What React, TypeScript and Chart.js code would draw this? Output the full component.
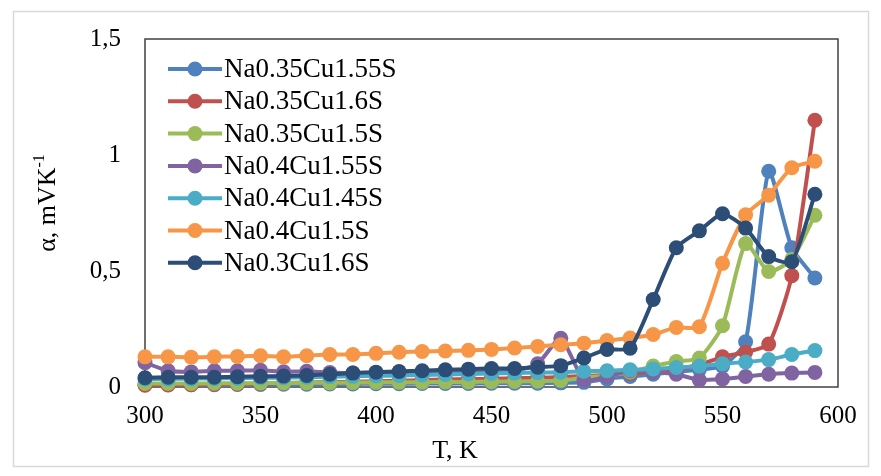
import { useEffect, useRef } from "react";
import { Chart, registerables } from "chart.js";

Chart.register(...registerables);

const temperatures = [300, 310, 320, 330, 340, 350, 360, 370, 380, 390, 400, 410, 420, 430, 440, 450, 460, 470, 480, 490, 500, 510, 520, 530, 540, 550, 560, 570, 580, 590];

const na035cu155s = [0.01, 0.01, 0.01, 0.01, 0.011, 0.011, 0.012, 0.012, 0.013, 0.013, 0.014, 0.014, 0.015, 0.015, 0.015, 0.016, 0.016, 0.016, 0.018, 0.02, 0.035, 0.045, 0.055, 0.065, 0.075, 0.09, 0.195, 0.93, 0.6, 0.47];
const na035cu16s = [0.008, 0.009, 0.01, 0.012, 0.013, 0.015, 0.017, 0.019, 0.021, 0.023, 0.025, 0.027, 0.03, 0.032, 0.034, 0.036, 0.038, 0.04, 0.043, 0.047, 0.052, 0.058, 0.066, 0.078, 0.095, 0.13, 0.15, 0.185, 0.48, 1.15];
const na035cu15s = [0.015, 0.015, 0.015, 0.016, 0.016, 0.017, 0.017, 0.018, 0.018, 0.019, 0.02, 0.02, 0.021, 0.022, 0.022, 0.023, 0.024, 0.025, 0.028, 0.04, 0.05, 0.065, 0.09, 0.11, 0.125, 0.264, 0.618, 0.498, 0.55, 0.74];
const na04cu155s = [0.105, 0.07, 0.065, 0.07, 0.07, 0.072, 0.066, 0.068, 0.062, 0.06, 0.06, 0.06, 0.062, 0.062, 0.063, 0.065, 0.07, 0.1, 0.21, 0.03, 0.045, 0.07, 0.065, 0.055, 0.03, 0.035, 0.045, 0.055, 0.06, 0.063];
const na04cu145s = [0.035, 0.035, 0.036, 0.037, 0.038, 0.04, 0.04, 0.042, 0.044, 0.046, 0.048, 0.05, 0.052, 0.054, 0.056, 0.058, 0.06, 0.062, 0.064, 0.068, 0.07, 0.074, 0.078, 0.084, 0.09, 0.1, 0.108, 0.118, 0.14, 0.157];
const na04cu15s = [0.13, 0.13, 0.128, 0.13, 0.132, 0.135, 0.13, 0.135, 0.14, 0.14, 0.145, 0.15, 0.153, 0.155, 0.158, 0.162, 0.168, 0.175, 0.182, 0.189, 0.2, 0.211, 0.226, 0.257, 0.26, 0.533, 0.742, 0.827, 0.945, 0.973];
const na03cu16s = [0.04, 0.042, 0.042, 0.042, 0.044, 0.046, 0.047, 0.05, 0.055, 0.06, 0.064, 0.067, 0.07, 0.074, 0.077, 0.08, 0.08, 0.085, 0.092, 0.125, 0.162, 0.167, 0.377, 0.6, 0.673, 0.747, 0.685, 0.562, 0.54, 0.831];

const seriesNames = ["Na0.35Cu1.55S", "Na0.35Cu1.6S", "Na0.35Cu1.5S", "Na0.4Cu1.55S", "Na0.4Cu1.45S", "Na0.4Cu1.5S", "Na0.3Cu1.6S"];
const seriesValues = [na035cu155s, na035cu16s, na035cu15s, na04cu155s, na04cu145s, na04cu15s, na03cu16s];
const seriesColors = ["#4F81BD", "#C0504D", "#9BBB59", "#8064A2", "#4BACC6", "#F79646", "#2C4D75"];

const xTitle = "T, K";
const yTitleMain = "α, mVK";
const yTitleSup = "-1";

const SERIF = "'Liberation Serif', 'Times New Roman', serif";

const decorPlugin = {
  id: "decor",
  beforeDraw(chart: any) {
    const ctx = chart.ctx;
    ctx.save();
    ctx.fillStyle = "#ffffff";
    ctx.fillRect(0, 0, chart.width, chart.height);
    ctx.strokeStyle = "#D9D9D9";
    ctx.lineWidth = 1.5;
    ctx.strokeRect(13.5, 11.5, 855, 455);
    ctx.restore();
  },
  beforeDatasetsDraw(chart: any) {
    const ctx = chart.ctx;
    const a = chart.chartArea;
    ctx.save();
    ctx.strokeStyle = "#404040";
    ctx.lineWidth = 1.5;
    ctx.strokeRect(a.left, a.top, a.right - a.left, a.bottom - a.top);
    ctx.restore();
  },
  afterDraw(chart: any) {
    const ctx = chart.ctx;
    ctx.save();
    ctx.fillStyle = "#000";
    ctx.font = `26px ${SERIF}`;
    ctx.textAlign = "center";
    ctx.textBaseline = "middle";
    ctx.fillText(xTitle, 455, 451);
    ctx.save();
    ctx.translate(48, 203);
    ctx.rotate(-Math.PI / 2);
    ctx.font = `26px ${SERIF}`;
    const w1 = ctx.measureText(yTitleMain).width;
    ctx.font = `16px ${SERIF}`;
    const w2 = ctx.measureText(yTitleSup).width;
    const start = -(w1 + w2) / 2;
    ctx.textAlign = "left";
    ctx.font = `26px ${SERIF}`;
    ctx.fillText(yTitleMain, start, 0);
    ctx.font = `16px ${SERIF}`;
    ctx.fillText(yTitleSup, start + w1, -8);
    ctx.restore();
    ctx.font = `27px ${SERIF}`;
    ctx.textAlign = "left";
    ctx.textBaseline = "middle";
    seriesNames.forEach((name, i) => {
      const y = 69 + 32.3 * i;
      ctx.strokeStyle = seriesColors[i];
      ctx.lineWidth = 4;
      ctx.beginPath();
      ctx.moveTo(168, y);
      ctx.lineTo(222, y);
      ctx.stroke();
      ctx.fillStyle = seriesColors[i];
      ctx.beginPath();
      ctx.arc(195, y, 7.5, 0, Math.PI * 2);
      ctx.fill();
      ctx.fillStyle = "#000";
      ctx.fillText(name, 224, y + 1);
    });
    ctx.restore();
  },
};

export default function App() {
  const canvasRef = useRef<HTMLCanvasElement | null>(null);

  useEffect(() => {
    if (!canvasRef.current) return;
    const datasets = seriesNames.map((name, i) => ({
      label: name,
      data: temperatures.map((t, j) => ({ x: t, y: seriesValues[i][j] })),
      borderColor: seriesColors[i],
      backgroundColor: seriesColors[i],
      borderWidth: 4,
      pointRadius: 7.5,
      pointBorderWidth: 0,
      pointHoverRadius: 7.5,
      tension: 0.2,
      clip: false as any,
      order: seriesNames.length - 1 - i,
    }));
    const chart = new Chart(canvasRef.current, {
      type: "line",
      data: { datasets },
      options: {
        responsive: false,
        animation: false,
        events: [],
        layout: { padding: { left: 0, top: 29, right: 43, bottom: 0 } },
        plugins: {
          legend: { display: false },
          tooltip: { enabled: false },
          title: { display: false },
        },
        scales: {
          x: {
            type: "linear",
            min: 300,
            max: 600,
            grid: { display: false, drawTicks: false },
            border: { display: false },
            ticks: {
              stepSize: 50,
              padding: 14,
              color: "#000",
              font: { family: SERIF, size: 25 },
              maxRotation: 0,
            },
            afterFit(scale: any) {
              scale.height = 89;
            },
          },
          y: {
            type: "linear",
            min: 0,
            max: 1.5,
            grid: { display: false, drawTicks: false },
            border: { display: false },
            ticks: {
              stepSize: 0.5,
              padding: 24,
              color: "#000",
              font: { family: SERIF, size: 25 },
              callback: (v: any) => String(v).replace(".", ","),
            },
            afterFit(scale: any) {
              scale.width = 145;
            },
          },
        },
      },
      plugins: [decorPlugin],
    });
    return () => chart.destroy();
  }, []);

  return (
    <div style={{ position: "fixed", left: 0, top: 0, width: 881, height: 476, background: "#fff" }}>
      <canvas ref={canvasRef} width={881} height={476} style={{ width: 881, height: 476, display: "block" }} />
    </div>
  );
}
